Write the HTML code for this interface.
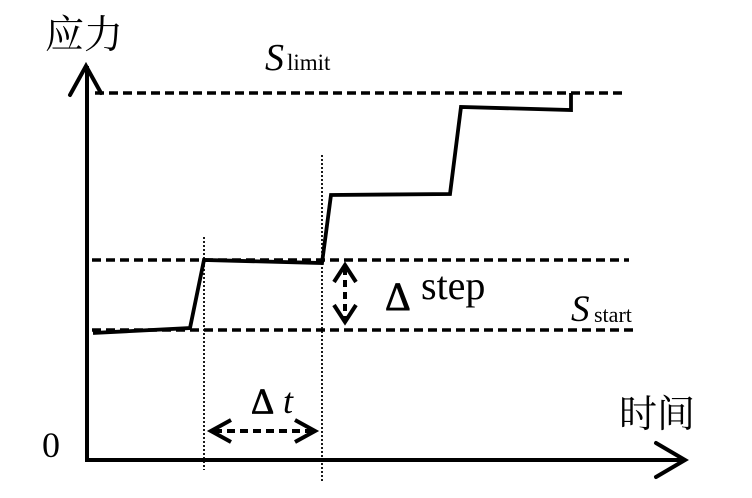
<!DOCTYPE html>
<html>
<head>
<meta charset="utf-8">
<style>
html,body{margin:0;padding:0;background:#fff;}
svg{display:block;}
</style>
</head>
<body>
<svg width="752" height="498" viewBox="0 0 752 498" xmlns="http://www.w3.org/2000/svg">
  <rect width="752" height="498" fill="#fff"/>

  <!-- dashed reference lines -->
  <g stroke="#000" stroke-width="3.4" stroke-dasharray="9 5" fill="none">
    <line x1="95" y1="93" x2="622" y2="93"/>
    <line x1="92" y1="260" x2="629" y2="260"/>
    <line x1="92" y1="330" x2="636" y2="330"/>
  </g>

  <!-- dotted vertical lines -->
  <g stroke="#000" stroke-width="1.8" stroke-dasharray="2 2" fill="none">
    <line x1="204" y1="237" x2="204" y2="470"/>
    <line x1="322" y1="155" x2="322" y2="482"/>
  </g>

  <!-- axes -->
  <g stroke="#000" stroke-width="4" fill="none" stroke-linecap="butt">
    <line x1="87" y1="66" x2="87" y2="462"/>
    <line x1="85" y1="460" x2="684" y2="460"/>
    <polyline points="70,95 86,66 101,93" stroke-linejoin="miter" stroke-linecap="round"/>
    <polyline points="656,443 685,460 656,477" stroke-linejoin="miter" stroke-linecap="round"/>
  </g>

  <!-- stress curve -->
  <polyline points="93,333 190,328 204,260 322,263 331,195 450,194 461,107 571,110 571,93"
    stroke="#000" stroke-width="3.8" fill="none" stroke-linejoin="miter"/>

  <!-- delta step arrow -->
  <g stroke="#000" stroke-width="4" fill="none">
    <line x1="345" y1="268" x2="345" y2="318" stroke-dasharray="7 5"/>
    <polyline points="334,282 345,265 356,282"/>
    <polyline points="334,305 345,322 356,305"/>
  </g>

  <!-- delta t arrow -->
  <g stroke="#000" stroke-width="4" fill="none">
    <line x1="214" y1="431" x2="312" y2="431" stroke-dasharray="8 5"/>
    <polyline points="231,420 211,431 231,442"/>
    <polyline points="295,420 315,431 295,442"/>
  </g>

  <!-- labels -->
  <text x="45" y="48" font-size="39" font-family="'Noto Serif CJK SC', 'Liberation Serif', serif" style="font-family:'Noto Serif CJK SC','Liberation Serif',serif">应力</text>
  <text x="619" y="427" font-size="38" font-family="'Noto Serif CJK SC', 'Liberation Serif', serif" style="font-family:'Noto Serif CJK SC','Liberation Serif',serif">时间</text>

  <text x="265" y="70" font-size="38" font-style="italic" font-family="'Liberation Serif', serif" style="font-family:'Liberation Serif',serif">S</text>
  <text x="287" y="70" font-size="23" font-family="'Liberation Serif', serif" style="font-family:'Liberation Serif',serif">limit</text>

  <text x="571" y="321" font-size="37" font-style="italic" font-family="'Liberation Serif', serif" style="font-family:'Liberation Serif',serif">S</text>
  <text x="594" y="322" font-size="22" font-family="'Liberation Serif', serif" style="font-family:'Liberation Serif',serif">start</text>

  <text x="42" y="457" font-size="36" font-family="'Liberation Serif', serif" style="font-family:'Liberation Serif',serif">0</text>

  <!-- Δ drawn as outlined triangle shapes to match the heavy symbol glyph -->
  <text x="385" y="310" font-size="40" stroke="#000" stroke-width="0.8" font-family="'Liberation Serif', serif" style="font-family:'Liberation Serif',serif">Δ</text>
  <text x="421" y="299" font-size="40" font-family="'Liberation Serif', serif" style="font-family:'Liberation Serif',serif">step</text>

  <text x="251" y="413" font-size="36" stroke="#000" stroke-width="0.8" font-family="'Liberation Serif', serif" style="font-family:'Liberation Serif',serif">Δ</text>
  <text x="283" y="413" font-size="36" font-style="italic" font-family="'Liberation Serif', serif" style="font-family:'Liberation Serif',serif">t</text>
</svg>
</body>
</html>
